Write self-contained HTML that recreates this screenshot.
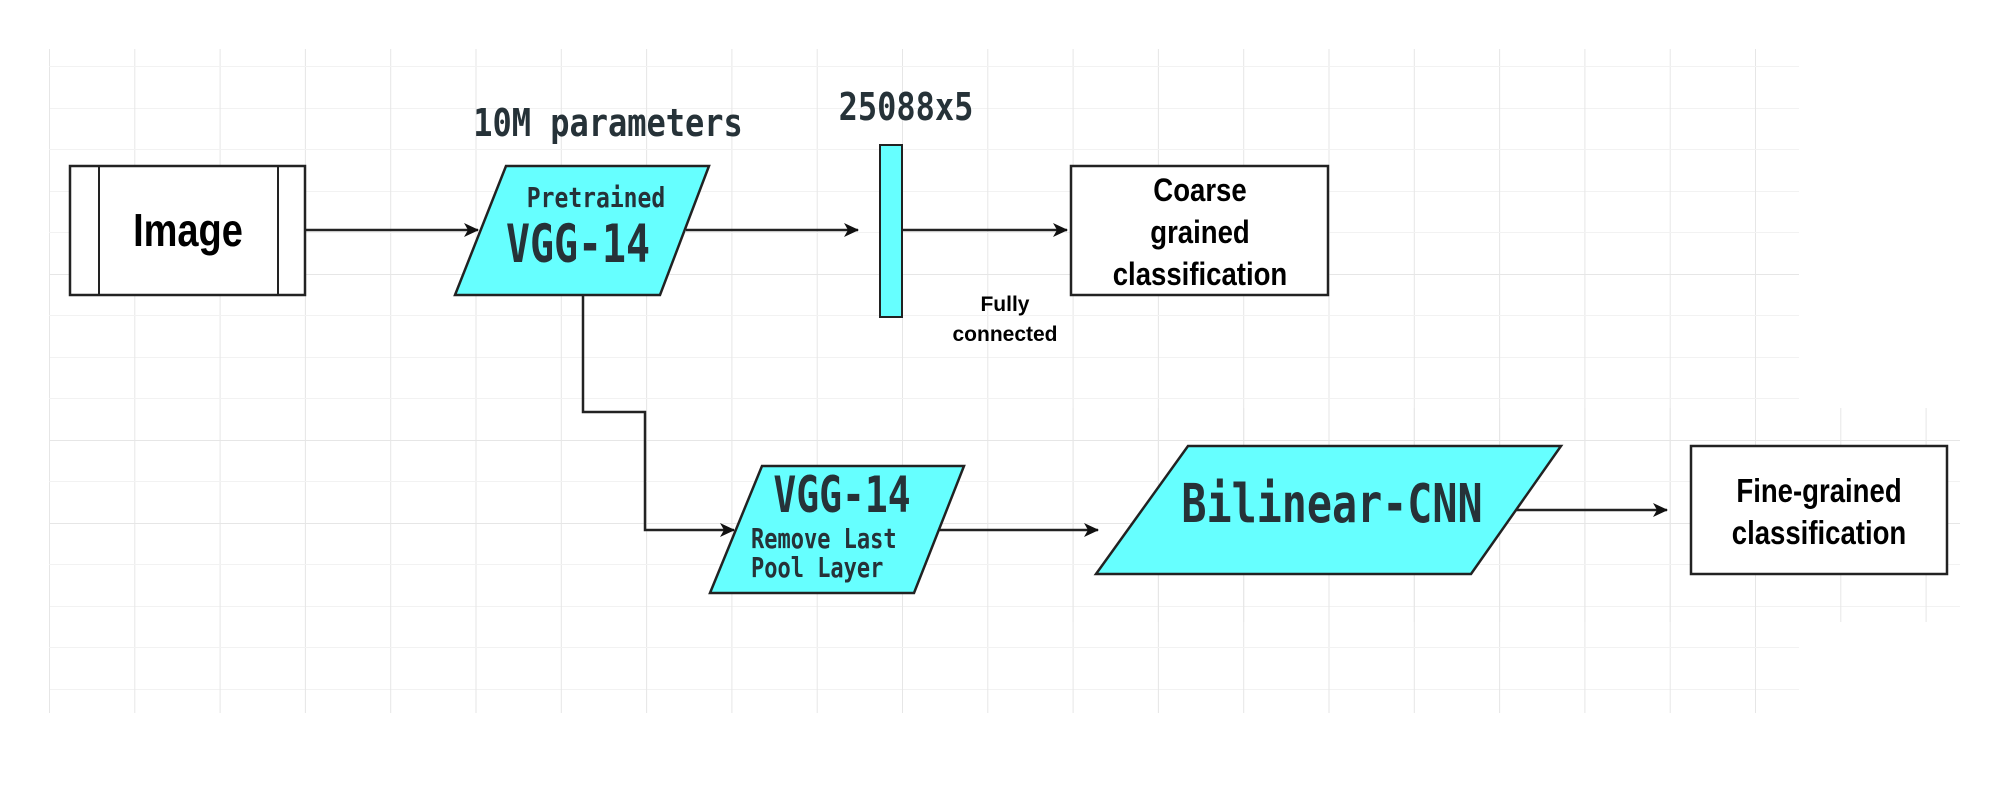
<!DOCTYPE html>
<html><head><meta charset="utf-8"><style>
html,body{margin:0;padding:0;background:#fff;}
svg{display:block}
.m{font-family:"DejaVu Sans Mono","Liberation Mono",monospace;font-weight:bold;fill:#263238}
.s{font-family:"Liberation Sans",Arial,sans-serif;font-weight:bold;fill:#000}
</style></head><body>
<svg width="2008" height="796" viewBox="0 0 2008 796" xmlns="http://www.w3.org/2000/svg">
<defs>
<pattern id="g" x="49" y="25" width="85.3" height="83" patternUnits="userSpaceOnUse">
<path d="M0 0V83M0 0H85.3" stroke="#e6e6e6" stroke-width="2" fill="none"/>
<path d="M0 41.5H85.3" stroke="#f2f2f2" stroke-width="1" fill="none"/>
</pattern>
<marker id="a" markerWidth="16" markerHeight="16" refX="14" refY="8" orient="auto" markerUnits="userSpaceOnUse">
<path d="M0 1L15 8L0 15L4 8Z" fill="#111"/>
</marker>
</defs>
<rect x="49" y="49" width="1750" height="664" fill="url(#g)"/>
<rect x="1063" y="408" width="897" height="214" fill="url(#g)"/>

<rect x="70" y="166" width="235" height="129" fill="#fff" stroke="#222" stroke-width="2.5"/>
<line x1="99" y1="166" x2="99" y2="295" stroke="#222" stroke-width="2"/>
<line x1="278" y1="166" x2="278" y2="295" stroke="#222" stroke-width="2"/>
<g transform="translate(188,246) scale(0.95,1.15)"><text x="0" y="0" class="s" font-size="40" text-anchor="middle">Image</text></g>

<g stroke="#222" stroke-width="2.5" fill="none">
<line x1="305" y1="230" x2="478" y2="230" marker-end="url(#a)"/>
<line x1="686" y1="230" x2="858" y2="230" marker-end="url(#a)"/>
<line x1="903" y1="230" x2="1067" y2="230" marker-end="url(#a)"/>
<polyline points="583,295 583,412 645,412 645,530 734,530" marker-end="url(#a)"/>
<line x1="914" y1="530" x2="1098" y2="530" marker-end="url(#a)"/>
<line x1="1516" y1="510" x2="1667" y2="510" marker-end="url(#a)"/>
</g>

<polygon points="506,166 709,166 660,295 455,295" fill="#66ffff" stroke="#222" stroke-width="2.5"/>
<g transform="translate(596,207) scale(1,1.2)"><text class="m" font-size="23" text-anchor="middle">Pretrained</text></g>
<g transform="translate(578,262) scale(0.95,1.25)"><text class="m" font-size="42" text-anchor="middle">VGG-14</text></g>
<g transform="translate(608,136) scale(1,1.2)"><text class="m" font-size="32" text-anchor="middle">10M parameters</text></g>
<g transform="translate(906,120) scale(1,1.2)"><text class="m" font-size="32" text-anchor="middle">25088x5</text></g>

<rect x="880" y="145" width="22" height="172" fill="#66ffff" stroke="#222" stroke-width="2"/>
<text x="1005" y="311" class="s" font-size="21" text-anchor="middle">Fully</text>
<text x="1005" y="341" class="s" font-size="21" text-anchor="middle">connected</text>

<rect x="1071" y="166" width="257" height="129" fill="#fff" stroke="#222" stroke-width="2.5"/>
<g text-anchor="middle">
<g transform="translate(1200,201) scale(0.95,1.12)"><text class="s" font-size="29">Coarse</text></g>
<g transform="translate(1200,243) scale(0.95,1.12)"><text class="s" font-size="29">grained</text></g>
<g transform="translate(1200,285) scale(0.95,1.12)"><text class="s" font-size="29">classification</text></g>
</g>

<polygon points="762,466 964,466 914,593 710,593" fill="#66ffff" stroke="#222" stroke-width="2.5"/>
<g transform="translate(842,512) scale(0.95,1.25)"><text class="m" font-size="40" text-anchor="middle">VGG-14</text></g>
<g transform="translate(751,548) scale(1,1.25)"><text class="m" font-size="22">Remove Last</text></g>
<g transform="translate(751,577) scale(1,1.25)"><text class="m" font-size="22">Pool Layer</text></g>

<polygon points="1188,446 1561,446 1471,574 1096,574" fill="#66ffff" stroke="#222" stroke-width="2.5"/>
<g transform="translate(1332,522) scale(0.97,1.25)"><text class="m" font-size="43" text-anchor="middle">Bilinear-CNN</text></g>

<rect x="1691" y="446" width="256" height="128" fill="#fff" stroke="#222" stroke-width="2.5"/>
<g text-anchor="middle">
<g transform="translate(1819,502) scale(0.95,1.15)"><text class="s" font-size="29">Fine-grained</text></g>
<g transform="translate(1819,544) scale(0.95,1.15)"><text class="s" font-size="29">classification</text></g>
</g>
</svg>
</body></html>
